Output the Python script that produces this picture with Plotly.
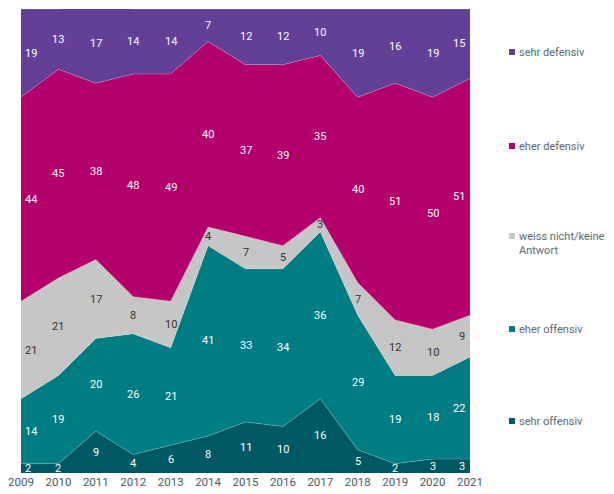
import plotly.graph_objects as go

years = [2009, 2010, 2011, 2012, 2013, 2014, 2015, 2016, 2017, 2018, 2019, 2020, 2021]
sehr_offensiv = [2, 2, 9, 4, 6, 8, 11, 10, 16, 5, 2, 3, 3]
eher_offensiv = [14, 19, 20, 26, 21, 41, 33, 34, 36, 29, 19, 18, 22]
weiss_nicht = [21, 21, 17, 8, 10, 4, 7, 5, 3, 7, 12, 10, 9]
eher_defensiv = [44, 45, 38, 48, 49, 40, 37, 39, 35, 40, 51, 50, 51]
sehr_defensiv = [19, 13, 17, 14, 14, 7, 12, 12, 10, 19, 16, 19, 15]

series_names = ["sehr offensiv", "eher offensiv", "weiss nicht/keine<br>Antwort", "eher defensiv", "sehr defensiv"]
series_values = [sehr_offensiv, eher_offensiv, weiss_nicht, eher_defensiv, sehr_defensiv]
colors = ["#005863", "#007C83", "#C6C6C6", "#B3006B", "#633F98"]
label_colors = ["white", "white", "#333333", "white", "white"]
FONT = "Roboto"

fig = go.Figure()
for name, vals, col in zip(series_names, series_values, colors):
    fig.add_trace(go.Scatter(
        x=years, y=vals, name=name, mode="lines", stackgroup="one",
        line=dict(width=0.6, color="rgba(255,255,255,0.35)"), fillcolor=col,
        hoverinfo="skip", showlegend=False))

annotations = []
base = [0] * len(years)
for vals, lc in zip(series_values, label_colors):
    for i, (yr, v) in enumerate(zip(years, vals)):
        if i == 0:
            xa, xs = "left", 2
        elif i == len(years) - 1:
            xa, xs = "right", -3
        else:
            xa, xs = "center", 0
        annotations.append(dict(x=yr, y=base[i] + v / 2, text=str(v), showarrow=False,
                                xanchor=xa, xshift=xs, yanchor="middle",
                                font=dict(size=11, color=lc, family=FONT)))
    base = [b + v for b, v in zip(base, vals)]

# custom legend on the right
H = 464.0
W = 449.0
def py2paper(py):
    return (473 - py) / H

legend_items = [("sehr defensiv", colors[4], 52),
                ("eher defensiv", colors[3], 146),
                ("weiss nicht/keine<br>Antwort", colors[2], 236),
                ("eher offensiv", colors[1], 329),
                ("sehr offensiv", colors[0], 421)]
shapes = []
for text, col, py in legend_items:
    y = py2paper(py)
    shapes.append(dict(type="rect", xref="paper", yref="paper",
                       x0=(509 - 21) / W, x1=(515 - 21) / W,
                       y0=y - 3 / H, y1=y + 3 / H, fillcolor=col, line=dict(width=0)))
    annotations.append(dict(x=(517 - 21) / W, y=y + 8 / H, xref="paper", yref="paper",
                            text=text, showarrow=False, xanchor="left", yanchor="top",
                            align="left",
                            font=dict(size=11, color="#5A6873", family=FONT)))

fig.update_layout(
    width=614, height=494,
    margin=dict(l=21, r=144, t=9, b=21, autoexpand=False),
    paper_bgcolor="white", plot_bgcolor="white",
    xaxis=dict(range=[2009, 2021], tickvals=years, ticktext=[str(y) for y in years],
               showgrid=False, zeroline=False, showline=False, automargin=False,
               fixedrange=True,
               tickfont=dict(size=11.5, color="#4A5863", family=FONT), ticklen=0),
    yaxis=dict(range=[0, 100], visible=False, automargin=False, fixedrange=True),
    annotations=annotations, shapes=shapes,
)

fig.write_html("out.html", config={"displayModeBar": False},
               post_script="document.body.style.margin='0';document.body.style.overflow='hidden';")
